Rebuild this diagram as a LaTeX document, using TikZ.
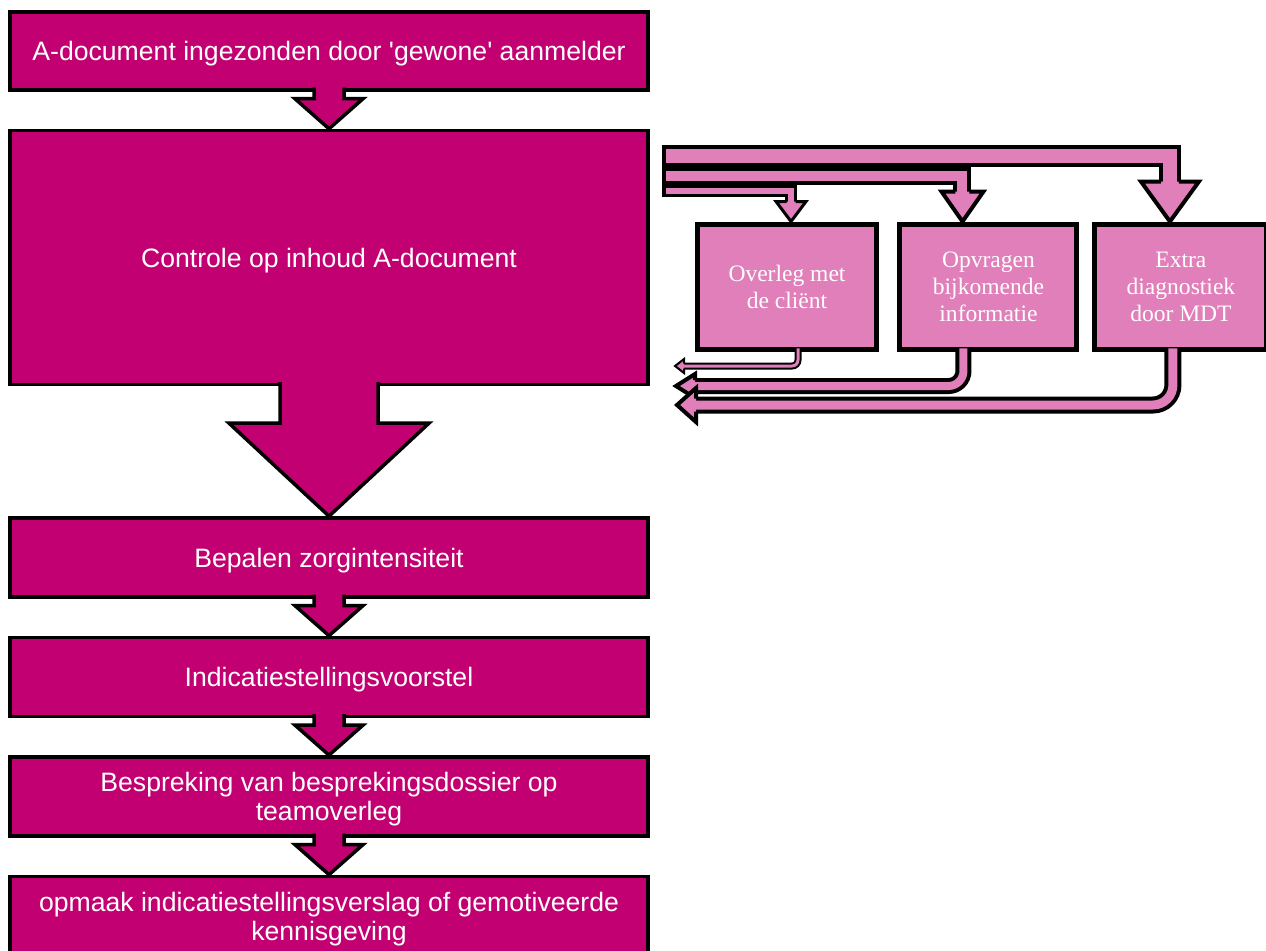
\documentclass[tikz,border=0pt]{standalone}
\usepackage{fontspec}
\setmainfont{Liberation Sans}[Ligatures=TeXOff]
\newfontfamily\boxserif{Liberation Serif}
\usetikzlibrary{positioning,calc}

\definecolor{flowmagenta}{RGB}{194,0,114}
\definecolor{sidepink}{RGB}{224,127,186}

% block arrow from the bottom of one stage to the top of the next
\newcommand{\blockarrow}[5]{%
  \filldraw[flowarrow] ($(#1.south)+(-#3,-4)$) -- ($(#2.north)+(-#3,-#5)$)
    -- ($(#2.north)+(-#4,-#5)$) -- (#2.north) -- ($(#2.north)+(#4,-#5)$)
    -- ($(#2.north)+(#3,-#5)$) -- ($(#1.south)+(#3,-4)$);}
% arrow heads on the pipes
\newcommand{\headdown}[5][]{%
  \filldraw[sidehead,#1] ($(#2)+(-#5,-#3)$) -- ($(#2)+(-#4,-#3)$) -- (#2)
    -- ($(#2)+(#4,-#3)$) -- ($(#2)+(#5,-#3)$);}
\newcommand{\headleft}[5][]{%
  \filldraw[sidehead,#1] ($(#2)+(#3,-#5)$) -- ($(#2)+(#3,-#4)$) -- (#2)
    -- ($(#2)+(#3,#4)$) -- ($(#2)+(#3,#5)$);}

\begin{document}
\begin{tikzpicture}[
  x=0.02cm, y=-0.02cm,
  node distance=0.74cm,
  stage/.style={
    rectangle,
    draw,
    line width=0.07cm,
    fill=flowmagenta,
    text=white,
    align=center,
    text depth=0pt,
    minimum width=12.76cm,
    minimum height=1.58cm,
    font=\fontsize{15.15}{16.5}\selectfont
  },
  option/.style={
    rectangle,
    draw,
    line width=0.1cm,
    fill=sidepink,
    text=white,
    align=center,
    minimum width=3.6cm,
    minimum height=2.52cm,
    font=\boxserif\fontsize{13.4}{15.4}\selectfont
  },
  flowarrow/.style={fill=flowmagenta, draw, line width=0.07cm},
  sidehead/.style={fill=sidepink, draw, line width=0.08cm},
  pipe/.style={draw, double=sidepink, double distance=#1, line width=0.08cm}
]
\useasboundingbox (0,0) rectangle (1266,950);

% main procedure
\node[stage, minimum height=1.56cm] (submit) at (329,51) {A-document ingezonden door 'gewone' aanmelder};
\node[stage, minimum height=5.08cm, below=of submit] (ctrl) {Controle op inhoud A-document};
\node[stage, below=2.6cm of ctrl] (zorg) {Bepalen zorgintensiteit};
\node[stage, below=of zorg] (voorstel) {Indicatiestellingsvoorstel};
\node[stage, below=of voorstel] (bespreking) {Bespreking van besprekingsdossier op\\
teamoverleg};
\node[stage, below=of bespreking, minimum height=1.62cm] (verslag) {opmaak indicatiestellingsverslag of gemotiveerde\\
kennisgeving};

% Arrows
\blockarrow{submit}{ctrl}{15}{34}{30}
\blockarrow{ctrl}{zorg}{49}{100}{93}
\blockarrow{zorg}{voorstel}{15}{34}{30}
\blockarrow{voorstel}{bespreking}{15}{34}{30}
\blockarrow{bespreking}{verslag}{15}{34}{30}

% side loop
\node[option] (client) at (787,287) {Overleg met\\de cliënt};
\node[option, right=0.36cm of client, minimum width=3.54cm] (info) {Opvragen\\bijkomende\\informatie};
\node[option, right=0.26cm of info, minimum width=3.44cm] (extra) {Extra\\diagnostiek\\door MDT};

\coordinate (forkC) at (664,156);
\coordinate (forkB) at (664,176);
\coordinate (forkA) at (664,191);
\coordinate (tipA) at ($(client.north)+(4,0)$);
\coordinate (tipB) at ($(info.north)+(-26,0)$);
\coordinate (tipC) at ($(extra.north)+(-11,0)$);
\coordinate (backA) at (675,366);
\coordinate (backB) at (676,386);
\coordinate (backC) at (677,405);

\draw[pipe=0.28cm] (forkC) -| ($(tipC)+(0,-37)$);
\headdown{tipC}{40}{29}{9}
\draw[pipe=0.2cm] (forkB) -| ($(tipB)+(0,-27)$);
\headdown{tipB}{30}{21}{7}
\draw[pipe=0.12cm, line width=0.06cm] (forkA) -| ($(tipA)+(0,-18)$);
\headdown[line width=0.06cm]{tipA}{20}{15}{4.5}
\draw[line width=0.08cm] ($(forkC)+(0,-11)$) -- ($(forkA)+(0,6)$);

\draw[pipe=0.06cm, line width=0.04cm, rounded corners=0.12cm] ($(client.south)+(11,-4)$) |- ($(backA)+(6,0)$);
\headleft[line width=0.04cm]{backA}{9}{7}{2.5}
\draw[pipe=0.16cm, rounded corners=0.3cm] ($(info.south)+(-25,-4)$) |- ($(backB)+(16,0)$);
\headleft{backB}{19}{12}{6}
\draw[pipe=0.18cm, rounded corners=0.4cm] ($(extra.south)+(-8,-4)$) |- ($(backC)+(16,0)$);
\headleft{backC}{19}{17}{6.5}

\end{tikzpicture}
\end{document}
